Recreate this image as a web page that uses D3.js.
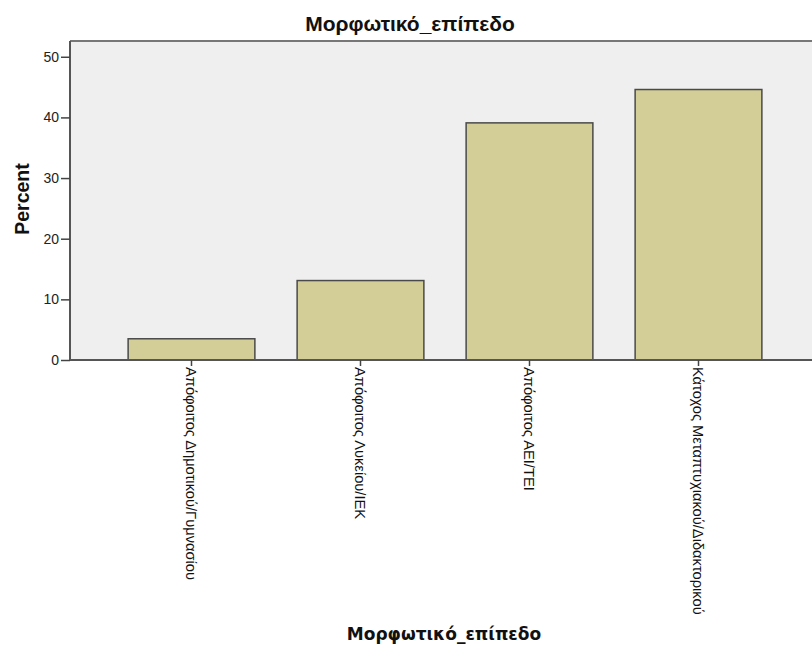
<!DOCTYPE html>
<html><head><meta charset="utf-8">
<script src="https://cdn.jsdelivr.net/npm/d3@7/dist/d3.min.js"></script>
<style>body{margin:0;background:#fff}</style>
</head><body>
<svg id="c" width="812" height="645"></svg>
<script>
const categories = ["Απόφοιτος Δημοτικού/Γυμνασίου","Απόφοιτος Λυκείου/ΙΕΚ","Απόφοιτος ΑΕΙ/ΤΕΙ","Κάτοχος Μεταπτυχιακού/Διδακτορικού"];
const percentValues = [3.5, 13.1, 39.1, 44.6];
const yTicks = [0, 10, 20, 30, 40, 50];
const chartTitle = "Μορφωτικό_επίπεδο";
const xTitle = "Μορφωτικό_επίπεδο";
const yTitle = "Percent";

const svg = d3.select("#c");
const pL = 70, pT = 41, pR = 812, pB = 360;

const y = d3.scaleLinear().domain([0, 52.6]).range([pB, pT]);
const x = d3.scaleBand().domain(categories).range([107, 783]).paddingInner(0.25).paddingOuter(0.125);

svg.append("rect").attr("x", pL).attr("y", pT).attr("width", pR - pL).attr("height", pB - pT)
  .attr("fill", "#efefef");
svg.append("line").attr("x1", pL).attr("x2", pR).attr("y1", pT).attr("y2", pT)
  .attr("stroke", "#777").attr("stroke-width", 2);

svg.selectAll("rect.bar").data(percentValues).enter().append("rect").attr("class","bar")
  .attr("x", (d,i) => x(categories[i]))
  .attr("y", d => y(d))
  .attr("width", x.bandwidth())
  .attr("height", d => y(0) - y(d))
  .attr("fill", "#d3ce97").attr("stroke", "#4a4a4a").attr("stroke-width", 1.5);

const yAxis = svg.append("g").attr("transform", `translate(${pL},0)`)
  .call(d3.axisLeft(y).tickValues(yTicks).tickSize(9).tickPadding(2));
yAxis.select(".domain").attr("d", `M0,${pB}V${pT}`).attr("stroke", "#555").attr("stroke-width", 2);
yAxis.selectAll(".tick line").attr("stroke", "#444").attr("stroke-width", 1.5);
yAxis.selectAll(".tick text").attr("font-family", "Liberation Sans, Arial, sans-serif").attr("font-size", 14).attr("fill", "#222");

const xAxis = svg.append("g").attr("transform", `translate(0,${pB})`)
  .call(d3.axisBottom(x).tickSize(6).tickPadding(2));
xAxis.select(".domain").attr("d", `M${pL},0H${pR}`).attr("stroke", "#555").attr("stroke-width", 2);
xAxis.selectAll(".tick line").attr("stroke", "#444").attr("stroke-width", 1.5);
xAxis.selectAll(".tick text")
  .attr("font-family", "Liberation Sans, Arial, sans-serif").attr("font-size", 14.7).attr("fill", "#111")
  .attr("transform", "rotate(90)")
  .attr("text-anchor", "start").attr("x", 7).attr("y", 0).attr("dy", "0.35em");

svg.append("text").attr("x", 410).attr("y", 31).attr("text-anchor", "middle")
  .attr("font-family", "Liberation Sans, Arial, sans-serif").attr("font-weight", "bold").attr("font-size", 21)
  .attr("fill", "#111").text(chartTitle);
svg.append("text").attr("x", 444).attr("y", 640).attr("text-anchor", "middle")
  .attr("font-family", "DejaVu Sans, Verdana, sans-serif").attr("font-weight", "bold").attr("font-size", 17)
  .attr("fill", "#111").text(xTitle);
svg.append("text").attr("transform", "translate(29,199) rotate(-90)").attr("text-anchor", "middle")
  .attr("font-family", "Liberation Sans, Arial, sans-serif").attr("font-weight", "bold").attr("font-size", 19.5)
  .attr("fill", "#111").text(yTitle);
</script>
</body></html>
